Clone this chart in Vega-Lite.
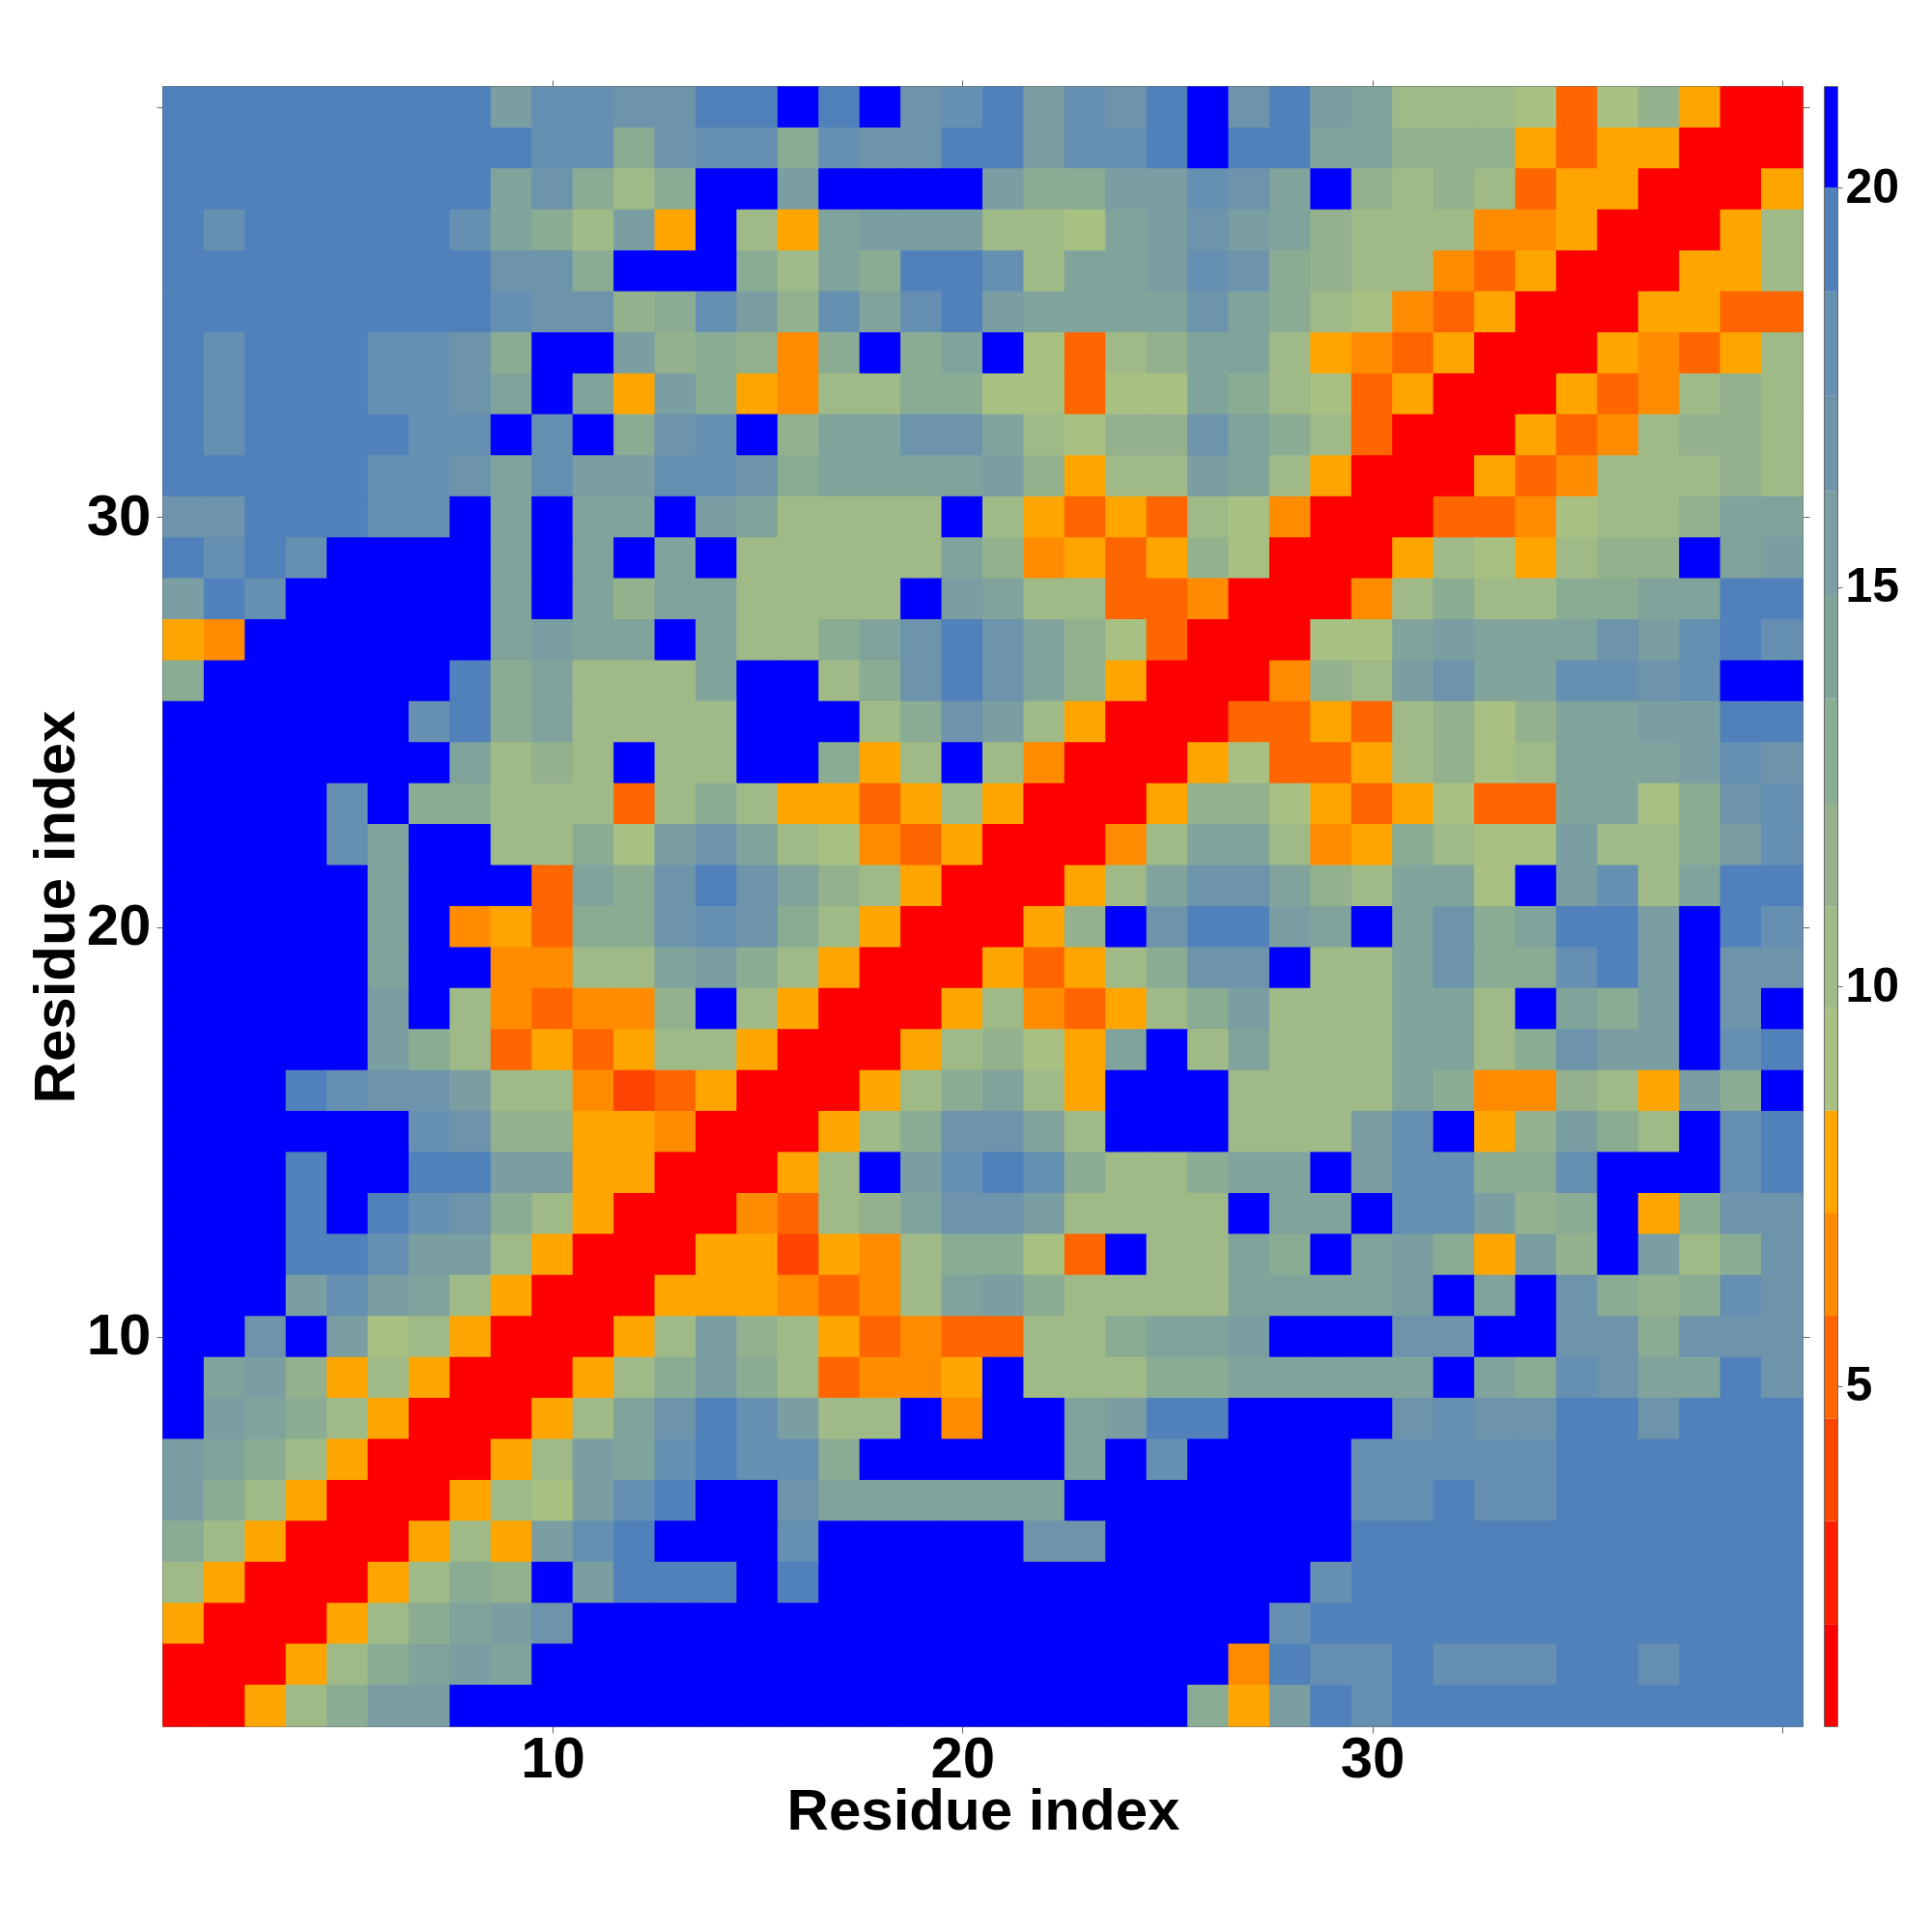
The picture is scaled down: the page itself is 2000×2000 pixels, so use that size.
{"$schema":"https://vega.github.io/schema/vega-lite/v6.json","background":"white","padding":{"left":27,"top":81,"right":0,"bottom":0},"spacing":13,"config":{"view":{"stroke":"#3a3a3a","strokeWidth":1.5},"axis":{"grid":false,"labelFont":"Liberation Sans","labelFontWeight":"bold","labelColor":"black","titleFont":"Liberation Sans","titleFontWeight":"bold","titleColor":"black","tickColor":"#666666","domain":false}},
"hconcat":[{"width":1697,"height":1697,"layer":[{"data":{"name":"cells"},"mark":{"type":"rect","width":43.5,"height":43.5},"encoding":{"x":{"field":"x","type":"quantitative","scale":{"domain":[0.5,40.5],"nice":false,"zero":false},"axis":{"values":[10,20,30,40],"labelExpr":"datum.value<40?datum.label:''","labelFontSize":60,"labelPadding":-2,"labelFlush":false,"tickSize":7,"title":"Residue index","titleFontSize":60,"titlePadding":-5,"orient":"bottom"}},"y":{"field":"y","type":"quantitative","scale":{"domain":[0.5,40.5],"nice":false,"zero":false},"axis":{"values":[10,20,30,40],"labelExpr":"datum.value<40?datum.label:''","labelFontSize":60,"labelPadding":6,"labelFlush":false,"tickSize":7,"title":"Residue index","titleFontSize":60,"titlePadding":0,"orient":"left"}},"color":{"field":"d","type":"quantitative","legend":null,"scale":{"type":"threshold","domain":[2.02,3.31,4.59,5.88,7.16,8.45,9.73,11,12.3,13.6,14.9,16.2,17.4,18.7,20],"range":["#ff0000","#ff2000","#ff4500","#ff6600","#ff8c00","#ffa500","#a8c183","#9fba86","#93b18c","#8aac93","#80a49c","#7a9ea2","#6d94aa","#6590b1","#5181bb","#0000ff"]}}}},{"data":{"values":[{"x":1,"y":1},{"x":40,"y":40}]},"mark":{"type":"point","opacity":0},"encoding":{"x":{"field":"x","type":"quantitative","scale":{"domain":[0.5,40.5],"nice":false,"zero":false},"axis":{"orient":"top","values":[10,20,30,40],"labels":false,"tickSize":7,"title":null}},"y":{"field":"y","type":"quantitative","scale":{"domain":[0.5,40.5],"nice":false,"zero":false},"axis":{"orient":"right","values":[10,20,30,40],"labels":false,"tickSize":7,"title":null}}}}],"resolve":{"axis":{"x":"independent","y":"independent"}}},{"width":13,"height":1697,"data":{"values":[{"lo":0.74,"hi":2.02,"d":1.4},{"lo":2.02,"hi":3.31,"d":2.7},{"lo":3.31,"hi":4.59,"d":4},{"lo":4.59,"hi":5.88,"d":5.2},{"lo":5.88,"hi":7.16,"d":6.5},{"lo":7.16,"hi":8.45,"d":7.8},{"lo":8.45,"hi":9.73,"d":9.1},{"lo":9.73,"hi":11,"d":10.4},{"lo":11,"hi":12.3,"d":11.7},{"lo":12.3,"hi":13.6,"d":13},{"lo":13.6,"hi":14.9,"d":14.2},{"lo":14.9,"hi":16.2,"d":15.5},{"lo":16.2,"hi":17.4,"d":16.8},{"lo":17.4,"hi":18.7,"d":18.1},{"lo":18.7,"hi":20,"d":19.4},{"lo":20,"hi":21.26,"d":20.6}]},"mark":"rect","encoding":{"y":{"field":"lo","type":"quantitative","scale":{"domain":[0.74,21.26],"nice":false,"zero":false},"axis":{"orient":"right","values":[5,10,15,20],"labelFontSize":50,"labelPadding":3,"tickSize":5,"title":null}},"y2":{"field":"hi"},"color":{"field":"d","type":"quantitative","legend":null,"scale":{"type":"threshold","domain":[2.02,3.31,4.59,5.88,7.16,8.45,9.73,11,12.3,13.6,14.9,16.2,17.4,18.7,20],"range":["#ff0000","#ff2000","#ff4500","#ff6600","#ff8c00","#ffa500","#a8c183","#9fba86","#93b18c","#8aac93","#80a49c","#7a9ea2","#6d94aa","#6590b1","#5181bb","#0000ff"]}}}}],
"datasets":{"cells":[
{"x":1,"y":40,"d":19.4},{"x":2,"y":40,"d":19.4},{"x":3,"y":40,"d":19.4},{"x":4,"y":40,"d":19.4},{"x":5,"y":40,"d":19.4},{"x":6,"y":40,"d":19.4},{"x":7,"y":40,"d":19.4},{"x":8,"y":40,"d":19.4},{"x":9,"y":40,"d":15.5},{"x":10,"y":40,"d":18.1},{"x":11,"y":40,"d":18.1},{"x":12,"y":40,"d":16.8},{"x":13,"y":40,"d":16.8},{"x":14,"y":40,"d":19.4},{"x":15,"y":40,"d":19.4},{"x":16,"y":40,"d":20.6},{"x":17,"y":40,"d":19.4},{"x":18,"y":40,"d":20.6},{"x":19,"y":40,"d":16.8},{"x":20,"y":40,"d":18.1},{"x":21,"y":40,"d":19.4},{"x":22,"y":40,"d":15.5},{"x":23,"y":40,"d":18.1},{"x":24,"y":40,"d":16.8},{"x":25,"y":40,"d":19.4},{"x":26,"y":40,"d":20.6},{"x":27,"y":40,"d":16.8},{"x":28,"y":40,"d":19.4},{"x":29,"y":40,"d":15.5},{"x":30,"y":40,"d":14.2},{"x":31,"y":40,"d":10.4},{"x":32,"y":40,"d":10.4},{"x":33,"y":40,"d":10.4},{"x":34,"y":40,"d":9.1},{"x":35,"y":40,"d":5.2},{"x":36,"y":40,"d":9.1},{"x":37,"y":40,"d":11.7},{"x":38,"y":40,"d":7.8},{"x":39,"y":40,"d":1.4},{"x":40,"y":40,"d":1.4},
{"x":1,"y":39,"d":19.4},{"x":2,"y":39,"d":19.4},{"x":3,"y":39,"d":19.4},{"x":4,"y":39,"d":19.4},{"x":5,"y":39,"d":19.4},{"x":6,"y":39,"d":19.4},{"x":7,"y":39,"d":19.4},{"x":8,"y":39,"d":19.4},{"x":9,"y":39,"d":19.4},{"x":10,"y":39,"d":18.1},{"x":11,"y":39,"d":18.1},{"x":12,"y":39,"d":13},{"x":13,"y":39,"d":16.8},{"x":14,"y":39,"d":18.1},{"x":15,"y":39,"d":18.1},{"x":16,"y":39,"d":13},{"x":17,"y":39,"d":18.1},{"x":18,"y":39,"d":16.8},{"x":19,"y":39,"d":16.8},{"x":20,"y":39,"d":19.4},{"x":21,"y":39,"d":19.4},{"x":22,"y":39,"d":15.5},{"x":23,"y":39,"d":18.1},{"x":24,"y":39,"d":18.1},{"x":25,"y":39,"d":19.4},{"x":26,"y":39,"d":20.6},{"x":27,"y":39,"d":19.4},{"x":28,"y":39,"d":19.4},{"x":29,"y":39,"d":14.2},{"x":30,"y":39,"d":14.2},{"x":31,"y":39,"d":11.7},{"x":32,"y":39,"d":11.7},{"x":33,"y":39,"d":11.7},{"x":34,"y":39,"d":7.8},{"x":35,"y":39,"d":5.2},{"x":36,"y":39,"d":7.8},{"x":37,"y":39,"d":7.8},{"x":38,"y":39,"d":1.4},{"x":39,"y":39,"d":1.4},{"x":40,"y":39,"d":1.4},
{"x":1,"y":38,"d":19.4},{"x":2,"y":38,"d":19.4},{"x":3,"y":38,"d":19.4},{"x":4,"y":38,"d":19.4},{"x":5,"y":38,"d":19.4},{"x":6,"y":38,"d":19.4},{"x":7,"y":38,"d":19.4},{"x":8,"y":38,"d":19.4},{"x":9,"y":38,"d":14.2},{"x":10,"y":38,"d":16.8},{"x":11,"y":38,"d":13},{"x":12,"y":38,"d":10.4},{"x":13,"y":38,"d":13},{"x":14,"y":38,"d":20.6},{"x":15,"y":38,"d":20.6},{"x":16,"y":38,"d":15.5},{"x":17,"y":38,"d":20.6},{"x":18,"y":38,"d":20.6},{"x":19,"y":38,"d":20.6},{"x":20,"y":38,"d":20.6},{"x":21,"y":38,"d":15.5},{"x":22,"y":38,"d":13},{"x":23,"y":38,"d":13},{"x":24,"y":38,"d":15.5},{"x":25,"y":38,"d":15.5},{"x":26,"y":38,"d":18.1},{"x":27,"y":38,"d":16.8},{"x":28,"y":38,"d":14.2},{"x":29,"y":38,"d":20.6},{"x":30,"y":38,"d":11.7},{"x":31,"y":38,"d":10.4},{"x":32,"y":38,"d":11.7},{"x":33,"y":38,"d":10.4},{"x":34,"y":38,"d":5.2},{"x":35,"y":38,"d":7.8},{"x":36,"y":38,"d":7.8},{"x":37,"y":38,"d":1.4},{"x":38,"y":38,"d":1.4},{"x":39,"y":38,"d":1.4},{"x":40,"y":38,"d":7.8},
{"x":1,"y":37,"d":19.4},{"x":2,"y":37,"d":18.1},{"x":3,"y":37,"d":19.4},{"x":4,"y":37,"d":19.4},{"x":5,"y":37,"d":19.4},{"x":6,"y":37,"d":19.4},{"x":7,"y":37,"d":19.4},{"x":8,"y":37,"d":18.1},{"x":9,"y":37,"d":14.2},{"x":10,"y":37,"d":13},{"x":11,"y":37,"d":10.4},{"x":12,"y":37,"d":15.5},{"x":13,"y":37,"d":7.8},{"x":14,"y":37,"d":20.6},{"x":15,"y":37,"d":10.4},{"x":16,"y":37,"d":7.8},{"x":17,"y":37,"d":14.2},{"x":18,"y":37,"d":15.5},{"x":19,"y":37,"d":15.5},{"x":20,"y":37,"d":15.5},{"x":21,"y":37,"d":10.4},{"x":22,"y":37,"d":10.4},{"x":23,"y":37,"d":9.1},{"x":24,"y":37,"d":14.2},{"x":25,"y":37,"d":15.5},{"x":26,"y":37,"d":16.8},{"x":27,"y":37,"d":15.5},{"x":28,"y":37,"d":14.2},{"x":29,"y":37,"d":11.7},{"x":30,"y":37,"d":10.4},{"x":31,"y":37,"d":10.4},{"x":32,"y":37,"d":10.4},{"x":33,"y":37,"d":6.5},{"x":34,"y":37,"d":6.5},{"x":35,"y":37,"d":7.8},{"x":36,"y":37,"d":1.4},{"x":37,"y":37,"d":1.4},{"x":38,"y":37,"d":1.4},{"x":39,"y":37,"d":7.8},{"x":40,"y":37,"d":10.4},
{"x":1,"y":36,"d":19.4},{"x":2,"y":36,"d":19.4},{"x":3,"y":36,"d":19.4},{"x":4,"y":36,"d":19.4},{"x":5,"y":36,"d":19.4},{"x":6,"y":36,"d":19.4},{"x":7,"y":36,"d":19.4},{"x":8,"y":36,"d":19.4},{"x":9,"y":36,"d":16.8},{"x":10,"y":36,"d":16.8},{"x":11,"y":36,"d":13},{"x":12,"y":36,"d":20.6},{"x":13,"y":36,"d":20.6},{"x":14,"y":36,"d":20.6},{"x":15,"y":36,"d":13},{"x":16,"y":36,"d":10.4},{"x":17,"y":36,"d":14.2},{"x":18,"y":36,"d":13},{"x":19,"y":36,"d":19.4},{"x":20,"y":36,"d":19.4},{"x":21,"y":36,"d":18.1},{"x":22,"y":36,"d":10.4},{"x":23,"y":36,"d":14.2},{"x":24,"y":36,"d":14.2},{"x":25,"y":36,"d":15.5},{"x":26,"y":36,"d":18.1},{"x":27,"y":36,"d":16.8},{"x":28,"y":36,"d":13},{"x":29,"y":36,"d":11.7},{"x":30,"y":36,"d":10.4},{"x":31,"y":36,"d":10.4},{"x":32,"y":36,"d":6.5},{"x":33,"y":36,"d":5.2},{"x":34,"y":36,"d":7.8},{"x":35,"y":36,"d":1.4},{"x":36,"y":36,"d":1.4},{"x":37,"y":36,"d":1.4},{"x":38,"y":36,"d":7.8},{"x":39,"y":36,"d":7.8},{"x":40,"y":36,"d":10.4},
{"x":1,"y":35,"d":19.4},{"x":2,"y":35,"d":19.4},{"x":3,"y":35,"d":19.4},{"x":4,"y":35,"d":19.4},{"x":5,"y":35,"d":19.4},{"x":6,"y":35,"d":19.4},{"x":7,"y":35,"d":19.4},{"x":8,"y":35,"d":19.4},{"x":9,"y":35,"d":18.1},{"x":10,"y":35,"d":16.8},{"x":11,"y":35,"d":16.8},{"x":12,"y":35,"d":11.7},{"x":13,"y":35,"d":13},{"x":14,"y":35,"d":18.1},{"x":15,"y":35,"d":15.5},{"x":16,"y":35,"d":11.7},{"x":17,"y":35,"d":18.1},{"x":18,"y":35,"d":14.2},{"x":19,"y":35,"d":18.1},{"x":20,"y":35,"d":19.4},{"x":21,"y":35,"d":15.5},{"x":22,"y":35,"d":14.2},{"x":23,"y":35,"d":14.2},{"x":24,"y":35,"d":14.2},{"x":25,"y":35,"d":14.2},{"x":26,"y":35,"d":16.8},{"x":27,"y":35,"d":14.2},{"x":28,"y":35,"d":13},{"x":29,"y":35,"d":10.4},{"x":30,"y":35,"d":9.1},{"x":31,"y":35,"d":6.5},{"x":32,"y":35,"d":5.2},{"x":33,"y":35,"d":7.8},{"x":34,"y":35,"d":1.4},{"x":35,"y":35,"d":1.4},{"x":36,"y":35,"d":1.4},{"x":37,"y":35,"d":7.8},{"x":38,"y":35,"d":7.8},{"x":39,"y":35,"d":5.2},{"x":40,"y":35,"d":5.2},
{"x":1,"y":34,"d":19.4},{"x":2,"y":34,"d":18.1},{"x":3,"y":34,"d":19.4},{"x":4,"y":34,"d":19.4},{"x":5,"y":34,"d":19.4},{"x":6,"y":34,"d":18.1},{"x":7,"y":34,"d":18.1},{"x":8,"y":34,"d":16.8},{"x":9,"y":34,"d":13},{"x":10,"y":34,"d":20.6},{"x":11,"y":34,"d":20.6},{"x":12,"y":34,"d":15.5},{"x":13,"y":34,"d":11.7},{"x":14,"y":34,"d":13},{"x":15,"y":34,"d":11.7},{"x":16,"y":34,"d":6.5},{"x":17,"y":34,"d":13},{"x":18,"y":34,"d":20.6},{"x":19,"y":34,"d":13},{"x":20,"y":34,"d":14.2},{"x":21,"y":34,"d":20.6},{"x":22,"y":34,"d":9.1},{"x":23,"y":34,"d":5.2},{"x":24,"y":34,"d":10.4},{"x":25,"y":34,"d":11.7},{"x":26,"y":34,"d":14.2},{"x":27,"y":34,"d":14.2},{"x":28,"y":34,"d":10.4},{"x":29,"y":34,"d":7.8},{"x":30,"y":34,"d":6.5},{"x":31,"y":34,"d":5.2},{"x":32,"y":34,"d":7.8},{"x":33,"y":34,"d":1.4},{"x":34,"y":34,"d":1.4},{"x":35,"y":34,"d":1.4},{"x":36,"y":34,"d":7.8},{"x":37,"y":34,"d":6.5},{"x":38,"y":34,"d":5.2},{"x":39,"y":34,"d":7.8},{"x":40,"y":34,"d":10.4},
{"x":1,"y":33,"d":19.4},{"x":2,"y":33,"d":18.1},{"x":3,"y":33,"d":19.4},{"x":4,"y":33,"d":19.4},{"x":5,"y":33,"d":19.4},{"x":6,"y":33,"d":18.1},{"x":7,"y":33,"d":18.1},{"x":8,"y":33,"d":16.8},{"x":9,"y":33,"d":14.2},{"x":10,"y":33,"d":20.6},{"x":11,"y":33,"d":14.2},{"x":12,"y":33,"d":7.8},{"x":13,"y":33,"d":15.5},{"x":14,"y":33,"d":13},{"x":15,"y":33,"d":7.8},{"x":16,"y":33,"d":6.5},{"x":17,"y":33,"d":10.4},{"x":18,"y":33,"d":10.4},{"x":19,"y":33,"d":13},{"x":20,"y":33,"d":13},{"x":21,"y":33,"d":9.1},{"x":22,"y":33,"d":9.1},{"x":23,"y":33,"d":5.2},{"x":24,"y":33,"d":9.1},{"x":25,"y":33,"d":9.1},{"x":26,"y":33,"d":14.2},{"x":27,"y":33,"d":13},{"x":28,"y":33,"d":10.4},{"x":29,"y":33,"d":9.1},{"x":30,"y":33,"d":5.2},{"x":31,"y":33,"d":7.8},{"x":32,"y":33,"d":1.4},{"x":33,"y":33,"d":1.4},{"x":34,"y":33,"d":1.4},{"x":35,"y":33,"d":7.8},{"x":36,"y":33,"d":5.2},{"x":37,"y":33,"d":6.5},{"x":38,"y":33,"d":10.4},{"x":39,"y":33,"d":11.7},{"x":40,"y":33,"d":10.4},
{"x":1,"y":32,"d":19.4},{"x":2,"y":32,"d":18.1},{"x":3,"y":32,"d":19.4},{"x":4,"y":32,"d":19.4},{"x":5,"y":32,"d":19.4},{"x":6,"y":32,"d":19.4},{"x":7,"y":32,"d":18.1},{"x":8,"y":32,"d":18.1},{"x":9,"y":32,"d":20.6},{"x":10,"y":32,"d":18.1},{"x":11,"y":32,"d":20.6},{"x":12,"y":32,"d":13},{"x":13,"y":32,"d":16.8},{"x":14,"y":32,"d":18.1},{"x":15,"y":32,"d":20.6},{"x":16,"y":32,"d":11.7},{"x":17,"y":32,"d":14.2},{"x":18,"y":32,"d":14.2},{"x":19,"y":32,"d":16.8},{"x":20,"y":32,"d":16.8},{"x":21,"y":32,"d":14.2},{"x":22,"y":32,"d":10.4},{"x":23,"y":32,"d":9.1},{"x":24,"y":32,"d":11.7},{"x":25,"y":32,"d":11.7},{"x":26,"y":32,"d":16.8},{"x":27,"y":32,"d":14.2},{"x":28,"y":32,"d":13},{"x":29,"y":32,"d":10.4},{"x":30,"y":32,"d":5.2},{"x":31,"y":32,"d":1.4},{"x":32,"y":32,"d":1.4},{"x":33,"y":32,"d":1.4},{"x":34,"y":32,"d":7.8},{"x":35,"y":32,"d":5.2},{"x":36,"y":32,"d":6.5},{"x":37,"y":32,"d":10.4},{"x":38,"y":32,"d":11.7},{"x":39,"y":32,"d":11.7},{"x":40,"y":32,"d":10.4},
{"x":1,"y":31,"d":19.4},{"x":2,"y":31,"d":19.4},{"x":3,"y":31,"d":19.4},{"x":4,"y":31,"d":19.4},{"x":5,"y":31,"d":19.4},{"x":6,"y":31,"d":18.1},{"x":7,"y":31,"d":18.1},{"x":8,"y":31,"d":16.8},{"x":9,"y":31,"d":14.2},{"x":10,"y":31,"d":18.1},{"x":11,"y":31,"d":15.5},{"x":12,"y":31,"d":15.5},{"x":13,"y":31,"d":18.1},{"x":14,"y":31,"d":18.1},{"x":15,"y":31,"d":16.8},{"x":16,"y":31,"d":13},{"x":17,"y":31,"d":14.2},{"x":18,"y":31,"d":14.2},{"x":19,"y":31,"d":14.2},{"x":20,"y":31,"d":14.2},{"x":21,"y":31,"d":15.5},{"x":22,"y":31,"d":11.7},{"x":23,"y":31,"d":7.8},{"x":24,"y":31,"d":10.4},{"x":25,"y":31,"d":10.4},{"x":26,"y":31,"d":15.5},{"x":27,"y":31,"d":14.2},{"x":28,"y":31,"d":10.4},{"x":29,"y":31,"d":7.8},{"x":30,"y":31,"d":1.4},{"x":31,"y":31,"d":1.4},{"x":32,"y":31,"d":1.4},{"x":33,"y":31,"d":7.8},{"x":34,"y":31,"d":5.2},{"x":35,"y":31,"d":6.5},{"x":36,"y":31,"d":10.4},{"x":37,"y":31,"d":10.4},{"x":38,"y":31,"d":10.4},{"x":39,"y":31,"d":11.7},{"x":40,"y":31,"d":10.4},
{"x":1,"y":30,"d":16.8},{"x":2,"y":30,"d":16.8},{"x":3,"y":30,"d":19.4},{"x":4,"y":30,"d":19.4},{"x":5,"y":30,"d":19.4},{"x":6,"y":30,"d":18.1},{"x":7,"y":30,"d":18.1},{"x":8,"y":30,"d":20.6},{"x":9,"y":30,"d":14.2},{"x":10,"y":30,"d":20.6},{"x":11,"y":30,"d":14.2},{"x":12,"y":30,"d":14.2},{"x":13,"y":30,"d":20.6},{"x":14,"y":30,"d":15.5},{"x":15,"y":30,"d":14.2},{"x":16,"y":30,"d":10.4},{"x":17,"y":30,"d":10.4},{"x":18,"y":30,"d":10.4},{"x":19,"y":30,"d":10.4},{"x":20,"y":30,"d":20.6},{"x":21,"y":30,"d":10.4},{"x":22,"y":30,"d":7.8},{"x":23,"y":30,"d":5.2},{"x":24,"y":30,"d":7.8},{"x":25,"y":30,"d":5.2},{"x":26,"y":30,"d":10.4},{"x":27,"y":30,"d":9.1},{"x":28,"y":30,"d":6.5},{"x":29,"y":30,"d":1.4},{"x":30,"y":30,"d":1.4},{"x":31,"y":30,"d":1.4},{"x":32,"y":30,"d":5.2},{"x":33,"y":30,"d":5.2},{"x":34,"y":30,"d":6.5},{"x":35,"y":30,"d":9.1},{"x":36,"y":30,"d":10.4},{"x":37,"y":30,"d":10.4},{"x":38,"y":30,"d":11.7},{"x":39,"y":30,"d":14.2},{"x":40,"y":30,"d":14.2},
{"x":1,"y":29,"d":19.4},{"x":2,"y":29,"d":18.1},{"x":3,"y":29,"d":19.4},{"x":4,"y":29,"d":18.1},{"x":5,"y":29,"d":20.6},{"x":6,"y":29,"d":20.6},{"x":7,"y":29,"d":20.6},{"x":8,"y":29,"d":20.6},{"x":9,"y":29,"d":14.2},{"x":10,"y":29,"d":20.6},{"x":11,"y":29,"d":14.2},{"x":12,"y":29,"d":20.6},{"x":13,"y":29,"d":14.2},{"x":14,"y":29,"d":20.6},{"x":15,"y":29,"d":10.4},{"x":16,"y":29,"d":10.4},{"x":17,"y":29,"d":10.4},{"x":18,"y":29,"d":10.4},{"x":19,"y":29,"d":10.4},{"x":20,"y":29,"d":14.2},{"x":21,"y":29,"d":11.7},{"x":22,"y":29,"d":6.5},{"x":23,"y":29,"d":7.8},{"x":24,"y":29,"d":5.2},{"x":25,"y":29,"d":7.8},{"x":26,"y":29,"d":11.7},{"x":27,"y":29,"d":9.1},{"x":28,"y":29,"d":1.4},{"x":29,"y":29,"d":1.4},{"x":30,"y":29,"d":1.4},{"x":31,"y":29,"d":7.8},{"x":32,"y":29,"d":10.4},{"x":33,"y":29,"d":9.1},{"x":34,"y":29,"d":7.8},{"x":35,"y":29,"d":10.4},{"x":36,"y":29,"d":11.7},{"x":37,"y":29,"d":11.7},{"x":38,"y":29,"d":20.6},{"x":39,"y":29,"d":14.2},{"x":40,"y":29,"d":15.5},
{"x":1,"y":28,"d":15.5},{"x":2,"y":28,"d":19.4},{"x":3,"y":28,"d":18.1},{"x":4,"y":28,"d":20.6},{"x":5,"y":28,"d":20.6},{"x":6,"y":28,"d":20.6},{"x":7,"y":28,"d":20.6},{"x":8,"y":28,"d":20.6},{"x":9,"y":28,"d":14.2},{"x":10,"y":28,"d":20.6},{"x":11,"y":28,"d":14.2},{"x":12,"y":28,"d":11.7},{"x":13,"y":28,"d":14.2},{"x":14,"y":28,"d":14.2},{"x":15,"y":28,"d":10.4},{"x":16,"y":28,"d":10.4},{"x":17,"y":28,"d":10.4},{"x":18,"y":28,"d":10.4},{"x":19,"y":28,"d":20.6},{"x":20,"y":28,"d":15.5},{"x":21,"y":28,"d":14.2},{"x":22,"y":28,"d":10.4},{"x":23,"y":28,"d":10.4},{"x":24,"y":28,"d":5.2},{"x":25,"y":28,"d":5.2},{"x":26,"y":28,"d":6.5},{"x":27,"y":28,"d":1.4},{"x":28,"y":28,"d":1.4},{"x":29,"y":28,"d":1.4},{"x":30,"y":28,"d":6.5},{"x":31,"y":28,"d":10.4},{"x":32,"y":28,"d":13},{"x":33,"y":28,"d":10.4},{"x":34,"y":28,"d":10.4},{"x":35,"y":28,"d":13},{"x":36,"y":28,"d":13},{"x":37,"y":28,"d":14.2},{"x":38,"y":28,"d":14.2},{"x":39,"y":28,"d":19.4},{"x":40,"y":28,"d":19.4},
{"x":1,"y":27,"d":7.8},{"x":2,"y":27,"d":6.5},{"x":3,"y":27,"d":20.6},{"x":4,"y":27,"d":20.6},{"x":5,"y":27,"d":20.6},{"x":6,"y":27,"d":20.6},{"x":7,"y":27,"d":20.6},{"x":8,"y":27,"d":20.6},{"x":9,"y":27,"d":14.2},{"x":10,"y":27,"d":15.5},{"x":11,"y":27,"d":14.2},{"x":12,"y":27,"d":14.2},{"x":13,"y":27,"d":20.6},{"x":14,"y":27,"d":14.2},{"x":15,"y":27,"d":10.4},{"x":16,"y":27,"d":10.4},{"x":17,"y":27,"d":13},{"x":18,"y":27,"d":14.2},{"x":19,"y":27,"d":16.8},{"x":20,"y":27,"d":19.4},{"x":21,"y":27,"d":16.8},{"x":22,"y":27,"d":14.2},{"x":23,"y":27,"d":11.7},{"x":24,"y":27,"d":9.1},{"x":25,"y":27,"d":5.2},{"x":26,"y":27,"d":1.4},{"x":27,"y":27,"d":1.4},{"x":28,"y":27,"d":1.4},{"x":29,"y":27,"d":9.1},{"x":30,"y":27,"d":9.1},{"x":31,"y":27,"d":14.2},{"x":32,"y":27,"d":15.5},{"x":33,"y":27,"d":14.2},{"x":34,"y":27,"d":14.2},{"x":35,"y":27,"d":14.2},{"x":36,"y":27,"d":16.8},{"x":37,"y":27,"d":15.5},{"x":38,"y":27,"d":18.1},{"x":39,"y":27,"d":19.4},{"x":40,"y":27,"d":18.1},
{"x":1,"y":26,"d":13},{"x":2,"y":26,"d":20.6},{"x":3,"y":26,"d":20.6},{"x":4,"y":26,"d":20.6},{"x":5,"y":26,"d":20.6},{"x":6,"y":26,"d":20.6},{"x":7,"y":26,"d":20.6},{"x":8,"y":26,"d":19.4},{"x":9,"y":26,"d":13},{"x":10,"y":26,"d":14.2},{"x":11,"y":26,"d":10.4},{"x":12,"y":26,"d":10.4},{"x":13,"y":26,"d":10.4},{"x":14,"y":26,"d":14.2},{"x":15,"y":26,"d":20.6},{"x":16,"y":26,"d":20.6},{"x":17,"y":26,"d":10.4},{"x":18,"y":26,"d":13},{"x":19,"y":26,"d":16.8},{"x":20,"y":26,"d":19.4},{"x":21,"y":26,"d":16.8},{"x":22,"y":26,"d":14.2},{"x":23,"y":26,"d":11.7},{"x":24,"y":26,"d":7.8},{"x":25,"y":26,"d":1.4},{"x":26,"y":26,"d":1.4},{"x":27,"y":26,"d":1.4},{"x":28,"y":26,"d":6.5},{"x":29,"y":26,"d":11.7},{"x":30,"y":26,"d":10.4},{"x":31,"y":26,"d":15.5},{"x":32,"y":26,"d":16.8},{"x":33,"y":26,"d":14.2},{"x":34,"y":26,"d":14.2},{"x":35,"y":26,"d":18.1},{"x":36,"y":26,"d":18.1},{"x":37,"y":26,"d":16.8},{"x":38,"y":26,"d":18.1},{"x":39,"y":26,"d":20.6},{"x":40,"y":26,"d":20.6},
{"x":1,"y":25,"d":20.6},{"x":2,"y":25,"d":20.6},{"x":3,"y":25,"d":20.6},{"x":4,"y":25,"d":20.6},{"x":5,"y":25,"d":20.6},{"x":6,"y":25,"d":20.6},{"x":7,"y":25,"d":18.1},{"x":8,"y":25,"d":19.4},{"x":9,"y":25,"d":13},{"x":10,"y":25,"d":14.2},{"x":11,"y":25,"d":10.4},{"x":12,"y":25,"d":10.4},{"x":13,"y":25,"d":10.4},{"x":14,"y":25,"d":10.4},{"x":15,"y":25,"d":20.6},{"x":16,"y":25,"d":20.6},{"x":17,"y":25,"d":20.6},{"x":18,"y":25,"d":10.4},{"x":19,"y":25,"d":13},{"x":20,"y":25,"d":16.8},{"x":21,"y":25,"d":15.5},{"x":22,"y":25,"d":10.4},{"x":23,"y":25,"d":7.8},{"x":24,"y":25,"d":1.4},{"x":25,"y":25,"d":1.4},{"x":26,"y":25,"d":1.4},{"x":27,"y":25,"d":5.2},{"x":28,"y":25,"d":5.2},{"x":29,"y":25,"d":7.8},{"x":30,"y":25,"d":5.2},{"x":31,"y":25,"d":10.4},{"x":32,"y":25,"d":11.7},{"x":33,"y":25,"d":9.1},{"x":34,"y":25,"d":11.7},{"x":35,"y":25,"d":14.2},{"x":36,"y":25,"d":14.2},{"x":37,"y":25,"d":15.5},{"x":38,"y":25,"d":15.5},{"x":39,"y":25,"d":19.4},{"x":40,"y":25,"d":19.4},
{"x":1,"y":24,"d":20.6},{"x":2,"y":24,"d":20.6},{"x":3,"y":24,"d":20.6},{"x":4,"y":24,"d":20.6},{"x":5,"y":24,"d":20.6},{"x":6,"y":24,"d":20.6},{"x":7,"y":24,"d":20.6},{"x":8,"y":24,"d":14.2},{"x":9,"y":24,"d":10.4},{"x":10,"y":24,"d":11.7},{"x":11,"y":24,"d":10.4},{"x":12,"y":24,"d":20.6},{"x":13,"y":24,"d":10.4},{"x":14,"y":24,"d":10.4},{"x":15,"y":24,"d":20.6},{"x":16,"y":24,"d":20.6},{"x":17,"y":24,"d":13},{"x":18,"y":24,"d":7.8},{"x":19,"y":24,"d":10.4},{"x":20,"y":24,"d":20.6},{"x":21,"y":24,"d":10.4},{"x":22,"y":24,"d":6.5},{"x":23,"y":24,"d":1.4},{"x":24,"y":24,"d":1.4},{"x":25,"y":24,"d":1.4},{"x":26,"y":24,"d":7.8},{"x":27,"y":24,"d":9.1},{"x":28,"y":24,"d":5.2},{"x":29,"y":24,"d":5.2},{"x":30,"y":24,"d":7.8},{"x":31,"y":24,"d":10.4},{"x":32,"y":24,"d":11.7},{"x":33,"y":24,"d":9.1},{"x":34,"y":24,"d":10.4},{"x":35,"y":24,"d":14.2},{"x":36,"y":24,"d":14.2},{"x":37,"y":24,"d":14.2},{"x":38,"y":24,"d":15.5},{"x":39,"y":24,"d":18.1},{"x":40,"y":24,"d":16.8},
{"x":1,"y":23,"d":20.6},{"x":2,"y":23,"d":20.6},{"x":3,"y":23,"d":20.6},{"x":4,"y":23,"d":20.6},{"x":5,"y":23,"d":18.1},{"x":6,"y":23,"d":20.6},{"x":7,"y":23,"d":13},{"x":8,"y":23,"d":13},{"x":9,"y":23,"d":10.4},{"x":10,"y":23,"d":10.4},{"x":11,"y":23,"d":10.4},{"x":12,"y":23,"d":5.2},{"x":13,"y":23,"d":10.4},{"x":14,"y":23,"d":13},{"x":15,"y":23,"d":10.4},{"x":16,"y":23,"d":7.8},{"x":17,"y":23,"d":7.8},{"x":18,"y":23,"d":5.2},{"x":19,"y":23,"d":7.8},{"x":20,"y":23,"d":10.4},{"x":21,"y":23,"d":7.8},{"x":22,"y":23,"d":1.4},{"x":23,"y":23,"d":1.4},{"x":24,"y":23,"d":1.4},{"x":25,"y":23,"d":7.8},{"x":26,"y":23,"d":11.7},{"x":27,"y":23,"d":11.7},{"x":28,"y":23,"d":9.1},{"x":29,"y":23,"d":7.8},{"x":30,"y":23,"d":5.2},{"x":31,"y":23,"d":7.8},{"x":32,"y":23,"d":9.1},{"x":33,"y":23,"d":5.2},{"x":34,"y":23,"d":5.2},{"x":35,"y":23,"d":14.2},{"x":36,"y":23,"d":14.2},{"x":37,"y":23,"d":9.1},{"x":38,"y":23,"d":13},{"x":39,"y":23,"d":16.8},{"x":40,"y":23,"d":18.1},
{"x":1,"y":22,"d":20.6},{"x":2,"y":22,"d":20.6},{"x":3,"y":22,"d":20.6},{"x":4,"y":22,"d":20.6},{"x":5,"y":22,"d":18.1},{"x":6,"y":22,"d":14.2},{"x":7,"y":22,"d":20.6},{"x":8,"y":22,"d":20.6},{"x":9,"y":22,"d":10.4},{"x":10,"y":22,"d":10.4},{"x":11,"y":22,"d":13},{"x":12,"y":22,"d":9.1},{"x":13,"y":22,"d":15.5},{"x":14,"y":22,"d":16.8},{"x":15,"y":22,"d":14.2},{"x":16,"y":22,"d":10.4},{"x":17,"y":22,"d":9.1},{"x":18,"y":22,"d":6.5},{"x":19,"y":22,"d":5.2},{"x":20,"y":22,"d":7.8},{"x":21,"y":22,"d":1.4},{"x":22,"y":22,"d":1.4},{"x":23,"y":22,"d":1.4},{"x":24,"y":22,"d":6.5},{"x":25,"y":22,"d":10.4},{"x":26,"y":22,"d":14.2},{"x":27,"y":22,"d":14.2},{"x":28,"y":22,"d":10.4},{"x":29,"y":22,"d":6.5},{"x":30,"y":22,"d":7.8},{"x":31,"y":22,"d":13},{"x":32,"y":22,"d":10.4},{"x":33,"y":22,"d":9.1},{"x":34,"y":22,"d":9.1},{"x":35,"y":22,"d":15.5},{"x":36,"y":22,"d":10.4},{"x":37,"y":22,"d":10.4},{"x":38,"y":22,"d":13},{"x":39,"y":22,"d":15.5},{"x":40,"y":22,"d":18.1},
{"x":1,"y":21,"d":20.6},{"x":2,"y":21,"d":20.6},{"x":3,"y":21,"d":20.6},{"x":4,"y":21,"d":20.6},{"x":5,"y":21,"d":20.6},{"x":6,"y":21,"d":14.2},{"x":7,"y":21,"d":20.6},{"x":8,"y":21,"d":20.6},{"x":9,"y":21,"d":20.6},{"x":10,"y":21,"d":5.2},{"x":11,"y":21,"d":14.2},{"x":12,"y":21,"d":13},{"x":13,"y":21,"d":16.8},{"x":14,"y":21,"d":19.4},{"x":15,"y":21,"d":16.8},{"x":16,"y":21,"d":14.2},{"x":17,"y":21,"d":11.7},{"x":18,"y":21,"d":10.4},{"x":19,"y":21,"d":7.8},{"x":20,"y":21,"d":1.4},{"x":21,"y":21,"d":1.4},{"x":22,"y":21,"d":1.4},{"x":23,"y":21,"d":7.8},{"x":24,"y":21,"d":10.4},{"x":25,"y":21,"d":14.2},{"x":26,"y":21,"d":16.8},{"x":27,"y":21,"d":16.8},{"x":28,"y":21,"d":14.2},{"x":29,"y":21,"d":11.7},{"x":30,"y":21,"d":10.4},{"x":31,"y":21,"d":14.2},{"x":32,"y":21,"d":14.2},{"x":33,"y":21,"d":9.1},{"x":34,"y":21,"d":20.6},{"x":35,"y":21,"d":15.5},{"x":36,"y":21,"d":18.1},{"x":37,"y":21,"d":10.4},{"x":38,"y":21,"d":14.2},{"x":39,"y":21,"d":19.4},{"x":40,"y":21,"d":19.4},
{"x":1,"y":20,"d":20.6},{"x":2,"y":20,"d":20.6},{"x":3,"y":20,"d":20.6},{"x":4,"y":20,"d":20.6},{"x":5,"y":20,"d":20.6},{"x":6,"y":20,"d":14.2},{"x":7,"y":20,"d":20.6},{"x":8,"y":20,"d":6.5},{"x":9,"y":20,"d":7.8},{"x":10,"y":20,"d":5.2},{"x":11,"y":20,"d":13},{"x":12,"y":20,"d":13},{"x":13,"y":20,"d":16.8},{"x":14,"y":20,"d":18.1},{"x":15,"y":20,"d":16.8},{"x":16,"y":20,"d":13},{"x":17,"y":20,"d":10.4},{"x":18,"y":20,"d":7.8},{"x":19,"y":20,"d":1.4},{"x":20,"y":20,"d":1.4},{"x":21,"y":20,"d":1.4},{"x":22,"y":20,"d":7.8},{"x":23,"y":20,"d":11.7},{"x":24,"y":20,"d":20.6},{"x":25,"y":20,"d":16.8},{"x":26,"y":20,"d":19.4},{"x":27,"y":20,"d":19.4},{"x":28,"y":20,"d":15.5},{"x":29,"y":20,"d":14.2},{"x":30,"y":20,"d":20.6},{"x":31,"y":20,"d":14.2},{"x":32,"y":20,"d":16.8},{"x":33,"y":20,"d":13},{"x":34,"y":20,"d":14.2},{"x":35,"y":20,"d":19.4},{"x":36,"y":20,"d":19.4},{"x":37,"y":20,"d":15.5},{"x":38,"y":20,"d":20.6},{"x":39,"y":20,"d":19.4},{"x":40,"y":20,"d":18.1},
{"x":1,"y":19,"d":20.6},{"x":2,"y":19,"d":20.6},{"x":3,"y":19,"d":20.6},{"x":4,"y":19,"d":20.6},{"x":5,"y":19,"d":20.6},{"x":6,"y":19,"d":14.2},{"x":7,"y":19,"d":20.6},{"x":8,"y":19,"d":20.6},{"x":9,"y":19,"d":6.5},{"x":10,"y":19,"d":6.5},{"x":11,"y":19,"d":10.4},{"x":12,"y":19,"d":10.4},{"x":13,"y":19,"d":14.2},{"x":14,"y":19,"d":15.5},{"x":15,"y":19,"d":13},{"x":16,"y":19,"d":10.4},{"x":17,"y":19,"d":7.8},{"x":18,"y":19,"d":1.4},{"x":19,"y":19,"d":1.4},{"x":20,"y":19,"d":1.4},{"x":21,"y":19,"d":7.8},{"x":22,"y":19,"d":5.2},{"x":23,"y":19,"d":7.8},{"x":24,"y":19,"d":10.4},{"x":25,"y":19,"d":13},{"x":26,"y":19,"d":16.8},{"x":27,"y":19,"d":16.8},{"x":28,"y":19,"d":20.6},{"x":29,"y":19,"d":10.4},{"x":30,"y":19,"d":10.4},{"x":31,"y":19,"d":14.2},{"x":32,"y":19,"d":16.8},{"x":33,"y":19,"d":13},{"x":34,"y":19,"d":13},{"x":35,"y":19,"d":18.1},{"x":36,"y":19,"d":19.4},{"x":37,"y":19,"d":15.5},{"x":38,"y":19,"d":20.6},{"x":39,"y":19,"d":16.8},{"x":40,"y":19,"d":16.8},
{"x":1,"y":18,"d":20.6},{"x":2,"y":18,"d":20.6},{"x":3,"y":18,"d":20.6},{"x":4,"y":18,"d":20.6},{"x":5,"y":18,"d":20.6},{"x":6,"y":18,"d":15.5},{"x":7,"y":18,"d":20.6},{"x":8,"y":18,"d":10.4},{"x":9,"y":18,"d":6.5},{"x":10,"y":18,"d":5.2},{"x":11,"y":18,"d":6.5},{"x":12,"y":18,"d":6.5},{"x":13,"y":18,"d":11.7},{"x":14,"y":18,"d":20.6},{"x":15,"y":18,"d":10.4},{"x":16,"y":18,"d":7.8},{"x":17,"y":18,"d":1.4},{"x":18,"y":18,"d":1.4},{"x":19,"y":18,"d":1.4},{"x":20,"y":18,"d":7.8},{"x":21,"y":18,"d":10.4},{"x":22,"y":18,"d":6.5},{"x":23,"y":18,"d":5.2},{"x":24,"y":18,"d":7.8},{"x":25,"y":18,"d":10.4},{"x":26,"y":18,"d":13},{"x":27,"y":18,"d":15.5},{"x":28,"y":18,"d":10.4},{"x":29,"y":18,"d":10.4},{"x":30,"y":18,"d":10.4},{"x":31,"y":18,"d":14.2},{"x":32,"y":18,"d":14.2},{"x":33,"y":18,"d":10.4},{"x":34,"y":18,"d":20.6},{"x":35,"y":18,"d":14.2},{"x":36,"y":18,"d":13},{"x":37,"y":18,"d":15.5},{"x":38,"y":18,"d":20.6},{"x":39,"y":18,"d":16.8},{"x":40,"y":18,"d":20.6},
{"x":1,"y":17,"d":20.6},{"x":2,"y":17,"d":20.6},{"x":3,"y":17,"d":20.6},{"x":4,"y":17,"d":20.6},{"x":5,"y":17,"d":20.6},{"x":6,"y":17,"d":15.5},{"x":7,"y":17,"d":13},{"x":8,"y":17,"d":10.4},{"x":9,"y":17,"d":5.2},{"x":10,"y":17,"d":7.8},{"x":11,"y":17,"d":5.2},{"x":12,"y":17,"d":7.8},{"x":13,"y":17,"d":10.4},{"x":14,"y":17,"d":10.4},{"x":15,"y":17,"d":7.8},{"x":16,"y":17,"d":1.4},{"x":17,"y":17,"d":1.4},{"x":18,"y":17,"d":1.4},{"x":19,"y":17,"d":7.8},{"x":20,"y":17,"d":10.4},{"x":21,"y":17,"d":11.7},{"x":22,"y":17,"d":9.1},{"x":23,"y":17,"d":7.8},{"x":24,"y":17,"d":14.2},{"x":25,"y":17,"d":20.6},{"x":26,"y":17,"d":10.4},{"x":27,"y":17,"d":14.2},{"x":28,"y":17,"d":10.4},{"x":29,"y":17,"d":10.4},{"x":30,"y":17,"d":10.4},{"x":31,"y":17,"d":14.2},{"x":32,"y":17,"d":14.2},{"x":33,"y":17,"d":10.4},{"x":34,"y":17,"d":13},{"x":35,"y":17,"d":16.8},{"x":36,"y":17,"d":15.5},{"x":37,"y":17,"d":15.5},{"x":38,"y":17,"d":20.6},{"x":39,"y":17,"d":18.1},{"x":40,"y":17,"d":19.4},
{"x":1,"y":16,"d":20.6},{"x":2,"y":16,"d":20.6},{"x":3,"y":16,"d":20.6},{"x":4,"y":16,"d":19.4},{"x":5,"y":16,"d":18.1},{"x":6,"y":16,"d":16.8},{"x":7,"y":16,"d":16.8},{"x":8,"y":16,"d":15.5},{"x":9,"y":16,"d":10.4},{"x":10,"y":16,"d":10.4},{"x":11,"y":16,"d":6.5},{"x":12,"y":16,"d":4},{"x":13,"y":16,"d":5.2},{"x":14,"y":16,"d":7.8},{"x":15,"y":16,"d":1.4},{"x":16,"y":16,"d":1.4},{"x":17,"y":16,"d":1.4},{"x":18,"y":16,"d":7.8},{"x":19,"y":16,"d":10.4},{"x":20,"y":16,"d":13},{"x":21,"y":16,"d":14.2},{"x":22,"y":16,"d":10.4},{"x":23,"y":16,"d":7.8},{"x":24,"y":16,"d":20.6},{"x":25,"y":16,"d":20.6},{"x":26,"y":16,"d":20.6},{"x":27,"y":16,"d":10.4},{"x":28,"y":16,"d":10.4},{"x":29,"y":16,"d":10.4},{"x":30,"y":16,"d":10.4},{"x":31,"y":16,"d":14.2},{"x":32,"y":16,"d":13},{"x":33,"y":16,"d":6.5},{"x":34,"y":16,"d":6.5},{"x":35,"y":16,"d":11.7},{"x":36,"y":16,"d":10.4},{"x":37,"y":16,"d":7.8},{"x":38,"y":16,"d":15.5},{"x":39,"y":16,"d":13},{"x":40,"y":16,"d":20.6},
{"x":1,"y":15,"d":20.6},{"x":2,"y":15,"d":20.6},{"x":3,"y":15,"d":20.6},{"x":4,"y":15,"d":20.6},{"x":5,"y":15,"d":20.6},{"x":6,"y":15,"d":20.6},{"x":7,"y":15,"d":18.1},{"x":8,"y":15,"d":16.8},{"x":9,"y":15,"d":11.7},{"x":10,"y":15,"d":11.7},{"x":11,"y":15,"d":7.8},{"x":12,"y":15,"d":7.8},{"x":13,"y":15,"d":6.5},{"x":14,"y":15,"d":1.4},{"x":15,"y":15,"d":1.4},{"x":16,"y":15,"d":1.4},{"x":17,"y":15,"d":7.8},{"x":18,"y":15,"d":10.4},{"x":19,"y":15,"d":13},{"x":20,"y":15,"d":16.8},{"x":21,"y":15,"d":16.8},{"x":22,"y":15,"d":14.2},{"x":23,"y":15,"d":10.4},{"x":24,"y":15,"d":20.6},{"x":25,"y":15,"d":20.6},{"x":26,"y":15,"d":20.6},{"x":27,"y":15,"d":10.4},{"x":28,"y":15,"d":10.4},{"x":29,"y":15,"d":10.4},{"x":30,"y":15,"d":15.5},{"x":31,"y":15,"d":18.1},{"x":32,"y":15,"d":20.6},{"x":33,"y":15,"d":7.8},{"x":34,"y":15,"d":11.7},{"x":35,"y":15,"d":15.5},{"x":36,"y":15,"d":13},{"x":37,"y":15,"d":10.4},{"x":38,"y":15,"d":20.6},{"x":39,"y":15,"d":18.1},{"x":40,"y":15,"d":19.4},
{"x":1,"y":14,"d":20.6},{"x":2,"y":14,"d":20.6},{"x":3,"y":14,"d":20.6},{"x":4,"y":14,"d":19.4},{"x":5,"y":14,"d":20.6},{"x":6,"y":14,"d":20.6},{"x":7,"y":14,"d":19.4},{"x":8,"y":14,"d":19.4},{"x":9,"y":14,"d":15.5},{"x":10,"y":14,"d":15.5},{"x":11,"y":14,"d":7.8},{"x":12,"y":14,"d":7.8},{"x":13,"y":14,"d":1.4},{"x":14,"y":14,"d":1.4},{"x":15,"y":14,"d":1.4},{"x":16,"y":14,"d":7.8},{"x":17,"y":14,"d":10.4},{"x":18,"y":14,"d":20.6},{"x":19,"y":14,"d":15.5},{"x":20,"y":14,"d":18.1},{"x":21,"y":14,"d":19.4},{"x":22,"y":14,"d":18.1},{"x":23,"y":14,"d":13},{"x":24,"y":14,"d":10.4},{"x":25,"y":14,"d":10.4},{"x":26,"y":14,"d":13},{"x":27,"y":14,"d":14.2},{"x":28,"y":14,"d":14.2},{"x":29,"y":14,"d":20.6},{"x":30,"y":14,"d":15.5},{"x":31,"y":14,"d":18.1},{"x":32,"y":14,"d":18.1},{"x":33,"y":14,"d":13},{"x":34,"y":14,"d":13},{"x":35,"y":14,"d":18.1},{"x":36,"y":14,"d":20.6},{"x":37,"y":14,"d":20.6},{"x":38,"y":14,"d":20.6},{"x":39,"y":14,"d":18.1},{"x":40,"y":14,"d":19.4},
{"x":1,"y":13,"d":20.6},{"x":2,"y":13,"d":20.6},{"x":3,"y":13,"d":20.6},{"x":4,"y":13,"d":19.4},{"x":5,"y":13,"d":20.6},{"x":6,"y":13,"d":19.4},{"x":7,"y":13,"d":18.1},{"x":8,"y":13,"d":16.8},{"x":9,"y":13,"d":13},{"x":10,"y":13,"d":10.4},{"x":11,"y":13,"d":7.8},{"x":12,"y":13,"d":1.4},{"x":13,"y":13,"d":1.4},{"x":14,"y":13,"d":1.4},{"x":15,"y":13,"d":6.5},{"x":16,"y":13,"d":5.2},{"x":17,"y":13,"d":10.4},{"x":18,"y":13,"d":11.7},{"x":19,"y":13,"d":14.2},{"x":20,"y":13,"d":16.8},{"x":21,"y":13,"d":16.8},{"x":22,"y":13,"d":15.5},{"x":23,"y":13,"d":10.4},{"x":24,"y":13,"d":10.4},{"x":25,"y":13,"d":10.4},{"x":26,"y":13,"d":10.4},{"x":27,"y":13,"d":20.6},{"x":28,"y":13,"d":14.2},{"x":29,"y":13,"d":14.2},{"x":30,"y":13,"d":20.6},{"x":31,"y":13,"d":18.1},{"x":32,"y":13,"d":18.1},{"x":33,"y":13,"d":15.5},{"x":34,"y":13,"d":11.7},{"x":35,"y":13,"d":13},{"x":36,"y":13,"d":20.6},{"x":37,"y":13,"d":7.8},{"x":38,"y":13,"d":13},{"x":39,"y":13,"d":16.8},{"x":40,"y":13,"d":16.8},
{"x":1,"y":12,"d":20.6},{"x":2,"y":12,"d":20.6},{"x":3,"y":12,"d":20.6},{"x":4,"y":12,"d":19.4},{"x":5,"y":12,"d":19.4},{"x":6,"y":12,"d":18.1},{"x":7,"y":12,"d":15.5},{"x":8,"y":12,"d":15.5},{"x":9,"y":12,"d":10.4},{"x":10,"y":12,"d":7.8},{"x":11,"y":12,"d":1.4},{"x":12,"y":12,"d":1.4},{"x":13,"y":12,"d":1.4},{"x":14,"y":12,"d":7.8},{"x":15,"y":12,"d":7.8},{"x":16,"y":12,"d":4},{"x":17,"y":12,"d":7.8},{"x":18,"y":12,"d":6.5},{"x":19,"y":12,"d":10.4},{"x":20,"y":12,"d":13},{"x":21,"y":12,"d":13},{"x":22,"y":12,"d":9.1},{"x":23,"y":12,"d":5.2},{"x":24,"y":12,"d":20.6},{"x":25,"y":12,"d":10.4},{"x":26,"y":12,"d":10.4},{"x":27,"y":12,"d":14.2},{"x":28,"y":12,"d":13},{"x":29,"y":12,"d":20.6},{"x":30,"y":12,"d":14.2},{"x":31,"y":12,"d":15.5},{"x":32,"y":12,"d":13},{"x":33,"y":12,"d":7.8},{"x":34,"y":12,"d":15.5},{"x":35,"y":12,"d":11.7},{"x":36,"y":12,"d":20.6},{"x":37,"y":12,"d":15.5},{"x":38,"y":12,"d":10.4},{"x":39,"y":12,"d":13},{"x":40,"y":12,"d":16.8},
{"x":1,"y":11,"d":20.6},{"x":2,"y":11,"d":20.6},{"x":3,"y":11,"d":20.6},{"x":4,"y":11,"d":15.5},{"x":5,"y":11,"d":18.1},{"x":6,"y":11,"d":15.5},{"x":7,"y":11,"d":14.2},{"x":8,"y":11,"d":10.4},{"x":9,"y":11,"d":7.8},{"x":10,"y":11,"d":1.4},{"x":11,"y":11,"d":1.4},{"x":12,"y":11,"d":1.4},{"x":13,"y":11,"d":7.8},{"x":14,"y":11,"d":7.8},{"x":15,"y":11,"d":7.8},{"x":16,"y":11,"d":6.5},{"x":17,"y":11,"d":5.2},{"x":18,"y":11,"d":6.5},{"x":19,"y":11,"d":10.4},{"x":20,"y":11,"d":14.2},{"x":21,"y":11,"d":15.5},{"x":22,"y":11,"d":13},{"x":23,"y":11,"d":10.4},{"x":24,"y":11,"d":10.4},{"x":25,"y":11,"d":10.4},{"x":26,"y":11,"d":10.4},{"x":27,"y":11,"d":14.2},{"x":28,"y":11,"d":14.2},{"x":29,"y":11,"d":14.2},{"x":30,"y":11,"d":14.2},{"x":31,"y":11,"d":15.5},{"x":32,"y":11,"d":20.6},{"x":33,"y":11,"d":14.2},{"x":34,"y":11,"d":20.6},{"x":35,"y":11,"d":16.8},{"x":36,"y":11,"d":13},{"x":37,"y":11,"d":11.7},{"x":38,"y":11,"d":13},{"x":39,"y":11,"d":18.1},{"x":40,"y":11,"d":16.8},
{"x":1,"y":10,"d":20.6},{"x":2,"y":10,"d":20.6},{"x":3,"y":10,"d":16.8},{"x":4,"y":10,"d":20.6},{"x":5,"y":10,"d":15.5},{"x":6,"y":10,"d":9.1},{"x":7,"y":10,"d":10.4},{"x":8,"y":10,"d":7.8},{"x":9,"y":10,"d":1.4},{"x":10,"y":10,"d":1.4},{"x":11,"y":10,"d":1.4},{"x":12,"y":10,"d":7.8},{"x":13,"y":10,"d":10.4},{"x":14,"y":10,"d":15.5},{"x":15,"y":10,"d":11.7},{"x":16,"y":10,"d":10.4},{"x":17,"y":10,"d":7.8},{"x":18,"y":10,"d":5.2},{"x":19,"y":10,"d":6.5},{"x":20,"y":10,"d":5.2},{"x":21,"y":10,"d":5.2},{"x":22,"y":10,"d":10.4},{"x":23,"y":10,"d":10.4},{"x":24,"y":10,"d":13},{"x":25,"y":10,"d":14.2},{"x":26,"y":10,"d":14.2},{"x":27,"y":10,"d":15.5},{"x":28,"y":10,"d":20.6},{"x":29,"y":10,"d":20.6},{"x":30,"y":10,"d":20.6},{"x":31,"y":10,"d":16.8},{"x":32,"y":10,"d":16.8},{"x":33,"y":10,"d":20.6},{"x":34,"y":10,"d":20.6},{"x":35,"y":10,"d":16.8},{"x":36,"y":10,"d":16.8},{"x":37,"y":10,"d":13},{"x":38,"y":10,"d":16.8},{"x":39,"y":10,"d":16.8},{"x":40,"y":10,"d":16.8},
{"x":1,"y":9,"d":20.6},{"x":2,"y":9,"d":14.2},{"x":3,"y":9,"d":15.5},{"x":4,"y":9,"d":11.7},{"x":5,"y":9,"d":7.8},{"x":6,"y":9,"d":10.4},{"x":7,"y":9,"d":7.8},{"x":8,"y":9,"d":1.4},{"x":9,"y":9,"d":1.4},{"x":10,"y":9,"d":1.4},{"x":11,"y":9,"d":7.8},{"x":12,"y":9,"d":10.4},{"x":13,"y":9,"d":13},{"x":14,"y":9,"d":15.5},{"x":15,"y":9,"d":13},{"x":16,"y":9,"d":10.4},{"x":17,"y":9,"d":5.2},{"x":18,"y":9,"d":6.5},{"x":19,"y":9,"d":6.5},{"x":20,"y":9,"d":7.8},{"x":21,"y":9,"d":20.6},{"x":22,"y":9,"d":10.4},{"x":23,"y":9,"d":10.4},{"x":24,"y":9,"d":10.4},{"x":25,"y":9,"d":13},{"x":26,"y":9,"d":13},{"x":27,"y":9,"d":14.2},{"x":28,"y":9,"d":14.2},{"x":29,"y":9,"d":14.2},{"x":30,"y":9,"d":14.2},{"x":31,"y":9,"d":14.2},{"x":32,"y":9,"d":20.6},{"x":33,"y":9,"d":14.2},{"x":34,"y":9,"d":13},{"x":35,"y":9,"d":18.1},{"x":36,"y":9,"d":16.8},{"x":37,"y":9,"d":14.2},{"x":38,"y":9,"d":14.2},{"x":39,"y":9,"d":19.4},{"x":40,"y":9,"d":16.8},
{"x":1,"y":8,"d":20.6},{"x":2,"y":8,"d":15.5},{"x":3,"y":8,"d":14.2},{"x":4,"y":8,"d":13},{"x":5,"y":8,"d":10.4},{"x":6,"y":8,"d":7.8},{"x":7,"y":8,"d":1.4},{"x":8,"y":8,"d":1.4},{"x":9,"y":8,"d":1.4},{"x":10,"y":8,"d":7.8},{"x":11,"y":8,"d":10.4},{"x":12,"y":8,"d":14.2},{"x":13,"y":8,"d":16.8},{"x":14,"y":8,"d":19.4},{"x":15,"y":8,"d":18.1},{"x":16,"y":8,"d":15.5},{"x":17,"y":8,"d":10.4},{"x":18,"y":8,"d":10.4},{"x":19,"y":8,"d":20.6},{"x":20,"y":8,"d":6.5},{"x":21,"y":8,"d":20.6},{"x":22,"y":8,"d":20.6},{"x":23,"y":8,"d":14.2},{"x":24,"y":8,"d":15.5},{"x":25,"y":8,"d":19.4},{"x":26,"y":8,"d":19.4},{"x":27,"y":8,"d":20.6},{"x":28,"y":8,"d":20.6},{"x":29,"y":8,"d":20.6},{"x":30,"y":8,"d":20.6},{"x":31,"y":8,"d":16.8},{"x":32,"y":8,"d":18.1},{"x":33,"y":8,"d":16.8},{"x":34,"y":8,"d":16.8},{"x":35,"y":8,"d":19.4},{"x":36,"y":8,"d":19.4},{"x":37,"y":8,"d":16.8},{"x":38,"y":8,"d":19.4},{"x":39,"y":8,"d":19.4},{"x":40,"y":8,"d":19.4},
{"x":1,"y":7,"d":15.5},{"x":2,"y":7,"d":14.2},{"x":3,"y":7,"d":13},{"x":4,"y":7,"d":10.4},{"x":5,"y":7,"d":7.8},{"x":6,"y":7,"d":1.4},{"x":7,"y":7,"d":1.4},{"x":8,"y":7,"d":1.4},{"x":9,"y":7,"d":7.8},{"x":10,"y":7,"d":10.4},{"x":11,"y":7,"d":15.5},{"x":12,"y":7,"d":14.2},{"x":13,"y":7,"d":18.1},{"x":14,"y":7,"d":19.4},{"x":15,"y":7,"d":18.1},{"x":16,"y":7,"d":18.1},{"x":17,"y":7,"d":13},{"x":18,"y":7,"d":20.6},{"x":19,"y":7,"d":20.6},{"x":20,"y":7,"d":20.6},{"x":21,"y":7,"d":20.6},{"x":22,"y":7,"d":20.6},{"x":23,"y":7,"d":14.2},{"x":24,"y":7,"d":20.6},{"x":25,"y":7,"d":18.1},{"x":26,"y":7,"d":20.6},{"x":27,"y":7,"d":20.6},{"x":28,"y":7,"d":20.6},{"x":29,"y":7,"d":20.6},{"x":30,"y":7,"d":18.1},{"x":31,"y":7,"d":18.1},{"x":32,"y":7,"d":18.1},{"x":33,"y":7,"d":18.1},{"x":34,"y":7,"d":18.1},{"x":35,"y":7,"d":19.4},{"x":36,"y":7,"d":19.4},{"x":37,"y":7,"d":19.4},{"x":38,"y":7,"d":19.4},{"x":39,"y":7,"d":19.4},{"x":40,"y":7,"d":19.4},
{"x":1,"y":6,"d":15.5},{"x":2,"y":6,"d":13},{"x":3,"y":6,"d":10.4},{"x":4,"y":6,"d":7.8},{"x":5,"y":6,"d":1.4},{"x":6,"y":6,"d":1.4},{"x":7,"y":6,"d":1.4},{"x":8,"y":6,"d":7.8},{"x":9,"y":6,"d":10.4},{"x":10,"y":6,"d":9.1},{"x":11,"y":6,"d":15.5},{"x":12,"y":6,"d":18.1},{"x":13,"y":6,"d":19.4},{"x":14,"y":6,"d":20.6},{"x":15,"y":6,"d":20.6},{"x":16,"y":6,"d":16.8},{"x":17,"y":6,"d":14.2},{"x":18,"y":6,"d":14.2},{"x":19,"y":6,"d":14.2},{"x":20,"y":6,"d":14.2},{"x":21,"y":6,"d":14.2},{"x":22,"y":6,"d":14.2},{"x":23,"y":6,"d":20.6},{"x":24,"y":6,"d":20.6},{"x":25,"y":6,"d":20.6},{"x":26,"y":6,"d":20.6},{"x":27,"y":6,"d":20.6},{"x":28,"y":6,"d":20.6},{"x":29,"y":6,"d":20.6},{"x":30,"y":6,"d":18.1},{"x":31,"y":6,"d":18.1},{"x":32,"y":6,"d":19.4},{"x":33,"y":6,"d":18.1},{"x":34,"y":6,"d":18.1},{"x":35,"y":6,"d":19.4},{"x":36,"y":6,"d":19.4},{"x":37,"y":6,"d":19.4},{"x":38,"y":6,"d":19.4},{"x":39,"y":6,"d":19.4},{"x":40,"y":6,"d":19.4},
{"x":1,"y":5,"d":13},{"x":2,"y":5,"d":10.4},{"x":3,"y":5,"d":7.8},{"x":4,"y":5,"d":1.4},{"x":5,"y":5,"d":1.4},{"x":6,"y":5,"d":1.4},{"x":7,"y":5,"d":7.8},{"x":8,"y":5,"d":10.4},{"x":9,"y":5,"d":7.8},{"x":10,"y":5,"d":15.5},{"x":11,"y":5,"d":18.1},{"x":12,"y":5,"d":19.4},{"x":13,"y":5,"d":20.6},{"x":14,"y":5,"d":20.6},{"x":15,"y":5,"d":20.6},{"x":16,"y":5,"d":18.1},{"x":17,"y":5,"d":20.6},{"x":18,"y":5,"d":20.6},{"x":19,"y":5,"d":20.6},{"x":20,"y":5,"d":20.6},{"x":21,"y":5,"d":20.6},{"x":22,"y":5,"d":16.8},{"x":23,"y":5,"d":16.8},{"x":24,"y":5,"d":20.6},{"x":25,"y":5,"d":20.6},{"x":26,"y":5,"d":20.6},{"x":27,"y":5,"d":20.6},{"x":28,"y":5,"d":20.6},{"x":29,"y":5,"d":20.6},{"x":30,"y":5,"d":19.4},{"x":31,"y":5,"d":19.4},{"x":32,"y":5,"d":19.4},{"x":33,"y":5,"d":19.4},{"x":34,"y":5,"d":19.4},{"x":35,"y":5,"d":19.4},{"x":36,"y":5,"d":19.4},{"x":37,"y":5,"d":19.4},{"x":38,"y":5,"d":19.4},{"x":39,"y":5,"d":19.4},{"x":40,"y":5,"d":19.4},
{"x":1,"y":4,"d":10.4},{"x":2,"y":4,"d":7.8},{"x":3,"y":4,"d":1.4},{"x":4,"y":4,"d":1.4},{"x":5,"y":4,"d":1.4},{"x":6,"y":4,"d":7.8},{"x":7,"y":4,"d":10.4},{"x":8,"y":4,"d":13},{"x":9,"y":4,"d":11.7},{"x":10,"y":4,"d":20.6},{"x":11,"y":4,"d":15.5},{"x":12,"y":4,"d":19.4},{"x":13,"y":4,"d":19.4},{"x":14,"y":4,"d":19.4},{"x":15,"y":4,"d":20.6},{"x":16,"y":4,"d":19.4},{"x":17,"y":4,"d":20.6},{"x":18,"y":4,"d":20.6},{"x":19,"y":4,"d":20.6},{"x":20,"y":4,"d":20.6},{"x":21,"y":4,"d":20.6},{"x":22,"y":4,"d":20.6},{"x":23,"y":4,"d":20.6},{"x":24,"y":4,"d":20.6},{"x":25,"y":4,"d":20.6},{"x":26,"y":4,"d":20.6},{"x":27,"y":4,"d":20.6},{"x":28,"y":4,"d":20.6},{"x":29,"y":4,"d":18.1},{"x":30,"y":4,"d":19.4},{"x":31,"y":4,"d":19.4},{"x":32,"y":4,"d":19.4},{"x":33,"y":4,"d":19.4},{"x":34,"y":4,"d":19.4},{"x":35,"y":4,"d":19.4},{"x":36,"y":4,"d":19.4},{"x":37,"y":4,"d":19.4},{"x":38,"y":4,"d":19.4},{"x":39,"y":4,"d":19.4},{"x":40,"y":4,"d":19.4},
{"x":1,"y":3,"d":7.8},{"x":2,"y":3,"d":1.4},{"x":3,"y":3,"d":1.4},{"x":4,"y":3,"d":1.4},{"x":5,"y":3,"d":7.8},{"x":6,"y":3,"d":10.4},{"x":7,"y":3,"d":13},{"x":8,"y":3,"d":14.2},{"x":9,"y":3,"d":15.5},{"x":10,"y":3,"d":16.8},{"x":11,"y":3,"d":20.6},{"x":12,"y":3,"d":20.6},{"x":13,"y":3,"d":20.6},{"x":14,"y":3,"d":20.6},{"x":15,"y":3,"d":20.6},{"x":16,"y":3,"d":20.6},{"x":17,"y":3,"d":20.6},{"x":18,"y":3,"d":20.6},{"x":19,"y":3,"d":20.6},{"x":20,"y":3,"d":20.6},{"x":21,"y":3,"d":20.6},{"x":22,"y":3,"d":20.6},{"x":23,"y":3,"d":20.6},{"x":24,"y":3,"d":20.6},{"x":25,"y":3,"d":20.6},{"x":26,"y":3,"d":20.6},{"x":27,"y":3,"d":20.6},{"x":28,"y":3,"d":18.1},{"x":29,"y":3,"d":19.4},{"x":30,"y":3,"d":19.4},{"x":31,"y":3,"d":19.4},{"x":32,"y":3,"d":19.4},{"x":33,"y":3,"d":19.4},{"x":34,"y":3,"d":19.4},{"x":35,"y":3,"d":19.4},{"x":36,"y":3,"d":19.4},{"x":37,"y":3,"d":19.4},{"x":38,"y":3,"d":19.4},{"x":39,"y":3,"d":19.4},{"x":40,"y":3,"d":19.4},
{"x":1,"y":2,"d":1.4},{"x":2,"y":2,"d":1.4},{"x":3,"y":2,"d":1.4},{"x":4,"y":2,"d":7.8},{"x":5,"y":2,"d":10.4},{"x":6,"y":2,"d":13},{"x":7,"y":2,"d":14.2},{"x":8,"y":2,"d":15.5},{"x":9,"y":2,"d":14.2},{"x":10,"y":2,"d":20.6},{"x":11,"y":2,"d":20.6},{"x":12,"y":2,"d":20.6},{"x":13,"y":2,"d":20.6},{"x":14,"y":2,"d":20.6},{"x":15,"y":2,"d":20.6},{"x":16,"y":2,"d":20.6},{"x":17,"y":2,"d":20.6},{"x":18,"y":2,"d":20.6},{"x":19,"y":2,"d":20.6},{"x":20,"y":2,"d":20.6},{"x":21,"y":2,"d":20.6},{"x":22,"y":2,"d":20.6},{"x":23,"y":2,"d":20.6},{"x":24,"y":2,"d":20.6},{"x":25,"y":2,"d":20.6},{"x":26,"y":2,"d":20.6},{"x":27,"y":2,"d":6.5},{"x":28,"y":2,"d":19.4},{"x":29,"y":2,"d":18.1},{"x":30,"y":2,"d":18.1},{"x":31,"y":2,"d":19.4},{"x":32,"y":2,"d":18.1},{"x":33,"y":2,"d":18.1},{"x":34,"y":2,"d":18.1},{"x":35,"y":2,"d":19.4},{"x":36,"y":2,"d":19.4},{"x":37,"y":2,"d":18.1},{"x":38,"y":2,"d":19.4},{"x":39,"y":2,"d":19.4},{"x":40,"y":2,"d":19.4},
{"x":1,"y":1,"d":1.4},{"x":2,"y":1,"d":1.4},{"x":3,"y":1,"d":7.8},{"x":4,"y":1,"d":10.4},{"x":5,"y":1,"d":13},{"x":6,"y":1,"d":15.5},{"x":7,"y":1,"d":15.5},{"x":8,"y":1,"d":20.6},{"x":9,"y":1,"d":20.6},{"x":10,"y":1,"d":20.6},{"x":11,"y":1,"d":20.6},{"x":12,"y":1,"d":20.6},{"x":13,"y":1,"d":20.6},{"x":14,"y":1,"d":20.6},{"x":15,"y":1,"d":20.6},{"x":16,"y":1,"d":20.6},{"x":17,"y":1,"d":20.6},{"x":18,"y":1,"d":20.6},{"x":19,"y":1,"d":20.6},{"x":20,"y":1,"d":20.6},{"x":21,"y":1,"d":20.6},{"x":22,"y":1,"d":20.6},{"x":23,"y":1,"d":20.6},{"x":24,"y":1,"d":20.6},{"x":25,"y":1,"d":20.6},{"x":26,"y":1,"d":13},{"x":27,"y":1,"d":7.8},{"x":28,"y":1,"d":15.5},{"x":29,"y":1,"d":19.4},{"x":30,"y":1,"d":18.1},{"x":31,"y":1,"d":19.4},{"x":32,"y":1,"d":19.4},{"x":33,"y":1,"d":19.4},{"x":34,"y":1,"d":19.4},{"x":35,"y":1,"d":19.4},{"x":36,"y":1,"d":19.4},{"x":37,"y":1,"d":19.4},{"x":38,"y":1,"d":19.4},{"x":39,"y":1,"d":19.4},{"x":40,"y":1,"d":19.4}
]}}
